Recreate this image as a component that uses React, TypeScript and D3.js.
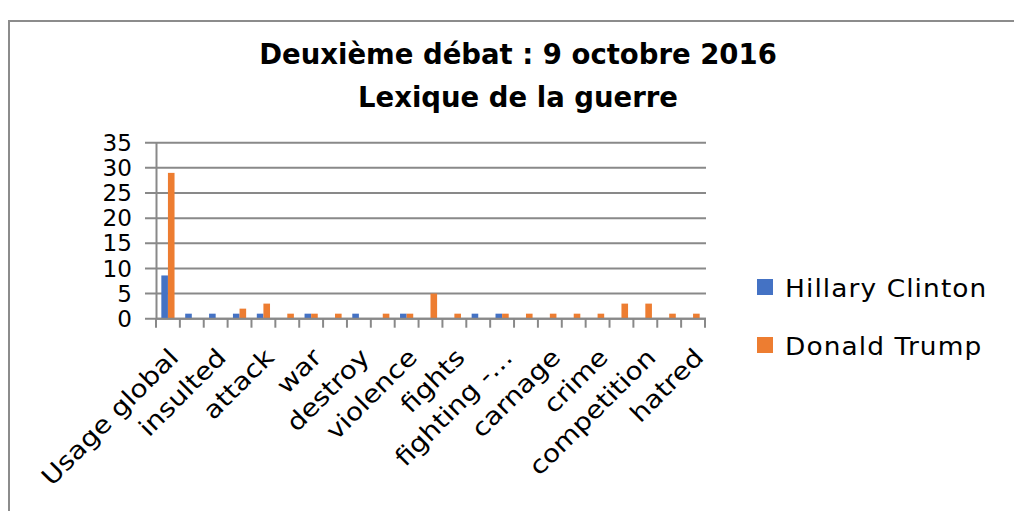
import React from "react";
import * as d3 from "d3";

const categories = [
  "Usage global", "insult", "insulted", "attacks", "attack", "wars", "war",
  "destroyed", "destroy", "violent", "violence", "fight", "fights", "fought",
  "fighting -…", "killed", "carnage", "criminal", "crime", "compete",
  "competition", "hate", "hatred",
];
const hillary = [8.6, 1, 1, 1, 1, 0, 1, 0, 1, 0, 1, 0, 0, 1, 1, 0, 0, 0, 0, 0, 0, 0, 0];
const trump = [29, 0, 0, 2, 3, 1, 1, 1, 0, 1, 1, 5, 1, 0, 1, 1, 1, 1, 1, 3, 3, 1, 1];
const seriesNames = ["Hillary Clinton", "Donald Trump"];
const seriesColors = ["#4472C4", "#ED7D31"];
const yTicks = [0, 5, 10, 15, 20, 25, 30, 35];
const titleLines = ["Deuxième débat : 9 octobre 2016", "Lexique de la guerre"];

const FONT = "'DejaVu Sans', sans-serif";
const GRID = "#898989";

export default function App() {
  const x = d3.scaleBand<string>().domain(categories).range([156, 705]).padding(0);
  const y = d3.scaleLinear().domain([0, 35]).range([318.7, 142.7]);
  const bw = 6.6;
  const series = [hillary, trump];

  return (
    <svg
      width={1014}
      height={511}
      style={{ position: "absolute", left: 0, top: 0, background: "#fff" }}
      fontFamily={FONT}
    >
      <rect x={0} y={0} width={1014} height={511} fill="#fff" />
      {/* outer border */}
      <path d="M9,520 L9,21 L1020,21" fill="none" stroke="#8c8c8c" strokeWidth={2} />

      {/* title */}
      {titleLines.map((t, i) => (
        <text
          key={t}
          x={518}
          y={63.5 + i * 43}
          textAnchor="middle"
          fontWeight="bold"
          fontSize={27.5}
          fill="#000"
        >
          {t}
        </text>
      ))}

      {/* gridlines */}
      {yTicks.map((v) => (
        <line key={v} x1={145} x2={706} y1={y(v)} y2={y(v)} stroke={GRID} strokeWidth={2} />
      ))}
      {/* y axis */}
      <line x1={156.5} x2={156.5} y1={y(35)} y2={y(0)} stroke={GRID} strokeWidth={2} />
      {yTicks.map((v) => (
        <text
          key={"l" + v}
          transform={`translate(132,${y(v)}) scale(1.05,1.08)`}
          textAnchor="end"
          dominantBaseline="central"
          fontSize={22}
          fill="#000"
        >
          {v}
        </text>
      ))}

      {/* bars */}
      {series.map((vals, si) =>
        vals.map((v, i) =>
          v > 0 ? (
            <rect
              key={si + "-" + i}
              x={(x(categories[i]) as number) + x.bandwidth() / 2 - bw + si * bw}
              y={y(v)}
              width={bw}
              height={y(0) - y(v)}
              fill={seriesColors[si]}
            />
          ) : null
        )
      )}

      {/* x axis */}
      <line x1={156} x2={706} y1={y(0)} y2={y(0)} stroke={GRID} strokeWidth={2} />
      {categories.map((c) => (
        <line
          key={"t" + c}
          x1={x(c) as number}
          x2={x(c) as number}
          y1={y(0)}
          y2={y(0) + 9}
          stroke={GRID}
          strokeWidth={2}
        />
      ))}
      <line x1={705} x2={705} y1={y(0)} y2={y(0) + 9} stroke={GRID} strokeWidth={2} />

      {categories.map((c, i) =>
        i % 2 === 0 ? (
          <text
            key={"xl" + c}
            transform={`translate(${(x(c) as number) + x.bandwidth() / 2 + 6},353) rotate(-45) scale(1.14,1)`}
            textAnchor="end"
            dominantBaseline="central"
            fontSize={24.5}
            fill="#000"
          >
            {c}
          </text>
        ) : null
      )}

      {/* legend */}
      {seriesNames.map((n, i) => (
        <g key={n}>
          <rect x={757} y={279 + i * 58} width={16} height={16} fill={seriesColors[i]} />
          <text
            transform={`translate(785,${297 + i * 57.5}) scale(1.1,1)`}
            fontSize={24}
            letterSpacing={1}
            fill="#000"
          >
            {n}
          </text>
        </g>
      ))}
    </svg>
  );
}
